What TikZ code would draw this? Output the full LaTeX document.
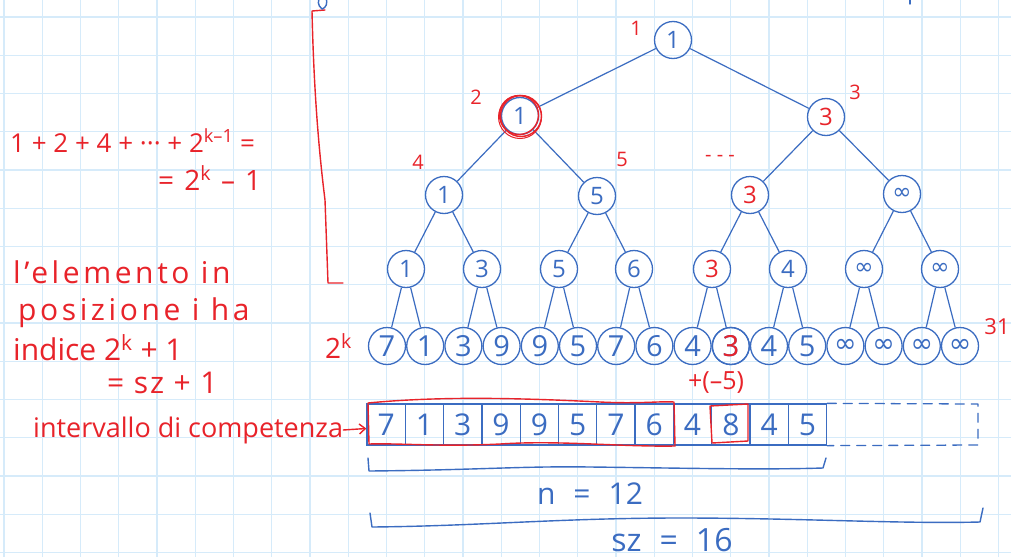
\documentclass[tikz,border=0pt]{standalone}
\usepackage{fontspec}
\usetikzlibrary{arrows.meta}
\setmainfont{Open Sans}
\newfontfamily\symf{DejaVu Sans}
\newcommand\myfs[1]{\fontsize{#1}{#1}\selectfont}
\definecolor{inkblue}{HTML}{3B6CC1}
\definecolor{inkred}{HTML}{E8232A}
\definecolor{gridblue}{HTML}{D6EBFA}
\tikzset{
  gridline/.style={draw=gridblue, line width=1.2pt},
  tn/.style={circle, draw=inkblue, line width=1.3pt, minimum size=37pt, inner sep=0pt, text=inkblue, font=\myfs{24}},
  leaf/.style={tn, font=\myfs{29}},
  edge/.style={draw=inkblue, line width=1.2pt},
  cell/.style={draw=inkblue, line width=1.3pt, minimum width=38.3pt, minimum height=41pt, inner sep=0pt, text=inkblue, font=\myfs{30}},
  redline/.style={draw=inkred, line width=1.4pt, line cap=round, line join=round},
  bluestroke/.style={draw=inkblue, line width=1.4pt, line cap=round, line join=round},
  rlabel/.style={text=inkred, inner sep=0pt, font=\myfs{20}},
  rtext/.style={text=inkred, inner sep=0pt, anchor=base west, font=\myfs{26}},
  btext/.style={text=inkblue, inner sep=0pt, font=\myfs{30}},
  inf/.style={font=\symf\myfs{23}},
}
\begin{document}
\begin{tikzpicture}[x=1pt,y=-1pt]
\useasboundingbox (0,0) rectangle (1011,557);
\fill[white] (0,0) rectangle (1011,557);
\foreach \i in {0,...,26} \draw[gridline] (4+38.25*\i,0) -- (4+38.25*\i,557);
\foreach \j in {0,...,14} \draw[gridline] (0,17+38.25*\j) -- (1011,17+38.25*\j);

% tree
\node[tn] (r) at (673,40) {1};
\node[tn] (a) at (520,116) {1};
\node[tn, text=inkred] (b) at (826,117) {3};
\node[tn] (c1) at (444,195) {1};
\node[tn] (c2) at (597,196) {5};
\node[tn, text=inkred] (c3) at (750,195) {3};
\node[tn, inf] (c4) at (902,194) {∞};
\node[tn] (d1) at (406,269) {1};
\node[tn] (d2) at (482,269) {3};
\node[tn] (d3) at (559,269) {5};
\node[tn] (d4) at (634,269) {6};
\node[tn, text=inkred] (d5) at (712,269) {3};
\node[tn] (d6) at (788,269) {4};
\node[tn, inf] (d7) at (864,269) {∞};
\node[tn, inf] (d8) at (940,269) {∞};
\foreach \v [count=\i] in {7,1,3,9,9,5,7,6,4,3,4,5}
  \node[leaf] (l\i) at (387+38.2*\i-38.2,346) {\v};
\foreach \i in {13,...,16}
  \node[leaf, inf, font=\symf\myfs{27}] (l\i) at (387+38.2*\i-38.2,346) {∞};
\node[leaf, text=inkred] at (l10) {3};

\draw[edge] (r) -- (a); \draw[edge] (r) -- (b);
\draw[edge] (a) -- (c1); \draw[edge] (a) -- (c2);
\draw[edge] (b) -- (c3); \draw[edge] (b) -- (c4);
\draw[edge] (c1) -- (d1); \draw[edge] (c1) -- (d2);
\draw[edge] (c2) -- (d3); \draw[edge] (c2) -- (d4);
\draw[edge] (c3) -- (d5); \draw[edge] (c3) -- (d6);
\draw[edge] (c4) -- (d7); \draw[edge] (c4) -- (d8);
\foreach \p [evaluate=\p as \q using int(2*\p-1), evaluate=\p as \s using int(2*\p)] in {1,...,8} {
  \draw[edge] (d\p) -- (l\q);
  \draw[edge] (d\p) -- (l\s);
}

% red circles around node a
\draw[redline] ([xshift=1pt]a.center) circle[radius=20.5pt];
\draw[redline] ([xshift=-1pt,yshift=1pt]a.center) circle[radius=19.5pt];
\draw[redline, line width=1pt] ([yshift=-1pt]a.center) circle[radius=21.5pt];

% red index labels
\node[rlabel] (n1) at (636,28) {1};
\node[rlabel] (n2) at (476,97) {2};
\node[rlabel] (n3) at (855,92) {3};
\node[rlabel] (n4) at (418,162) {4};
\node[rlabel] (n5) at (622,159) {5};
\node[rlabel] (ndots) at (720,158) {- - -};
\node[rlabel, font=\myfs{22}] (n31) at (997,327) {31};
\node[rtext, font=\myfs{28}] (twok) at (325,358) {2\textsuperscript{k}};

% array
\foreach \v [count=\i] in {7,1,3,9,9,5,7,6,4,8,4,5}
  \node[cell] (k\i) at (367+38.3*\i-19.15,424.5) {\v};
\coordinate (dtr) at (978,404);
\coordinate (dbr) at (978,445);
\draw[bluestroke, line width=1.3pt, dash pattern=on 9pt off 7pt] (k12.north east) -- (dtr) -- (dbr) -- (k12.south east);

% red markings on array
\draw[redline] (368,403) .. controls (440,396) and (520,398) .. (600,402) .. controls (640,404) and (660,401) .. (674,402) -- (675,446) .. controls (620,447) and (560,440) .. (500,444) .. controls (440,447) and (400,443) .. (369,444) -- cycle;
\draw[redline] (710,406) -- (748,404) -- (748,441) -- (712,443) -- cycle;
\node[rlabel, font=\myfs{25}] (m5) at (716,383) {+(–5)};

% braces
\draw[bluestroke] (368,458) -- (369,471) .. controls (480,470) and (520,466) .. (590,467) .. controls (680,468) and (760,470) .. (823,468) -- (826,458);
\node[btext] (nlab) at (590,494) {n\hspace{18pt}=\hspace{18pt}12};
\draw[bluestroke] (370,513) -- (372,527) .. controls (480,526) and (560,518) .. (680,518) .. controls (800,518) and (900,524) .. (980,522) -- (983,508);
\node[btext, font=\myfs{32}, anchor=base] (szlab) at (672,551) {sz\hspace{18pt}=\hspace{18pt}16};

% red bracket
\draw[redline] (325,10) -- (312,11) .. controls (314,100) and (320,160) .. (325,200) -- (328,283) -- (343,283);

% small blue strokes at top
\draw[bluestroke] (322,9) .. controls (317,5) and (318,0) .. (320,-2);
\draw[bluestroke] (326,-2) .. controls (328,3) and (326,8) .. (322,9);
\draw[bluestroke] (910,0) -- (910,4);

% left notes
\node[rtext] (sum1) at (10,152) {1 + 2 + 4 + ··· + 2\textsuperscript{k–1} =};
\node[rtext, font=\myfs{28}\addfontfeature{LetterSpace=10}] (sum2) at (158,190) {= 2\textsuperscript{k} – 1};
\node[rtext, font=\myfs{30}\addfontfeature{LetterSpace=12}] (t1) at (13,283) {l'elemento in};
\node[rtext, font=\myfs{30}\addfontfeature{LetterSpace=12}] (t2) at (18,320) {posizione i ha};
\node[rtext, font=\myfs{30}] (t3) at (13,360) {indice 2\textsuperscript{k} + 1};
\node[rtext, font=\myfs{30}\addfontfeature{LetterSpace=6}] (t4) at (107,393) {= sz + 1};
\node[rtext, font=\myfs{27}] (t5) at (33,437) {intervallo di competenza};
\draw[redline, -{Straight Barb[length=6pt,width=10pt]}] (t5.east) -- ([yshift=-4pt]k1.west);
\end{tikzpicture}
\end{document}
